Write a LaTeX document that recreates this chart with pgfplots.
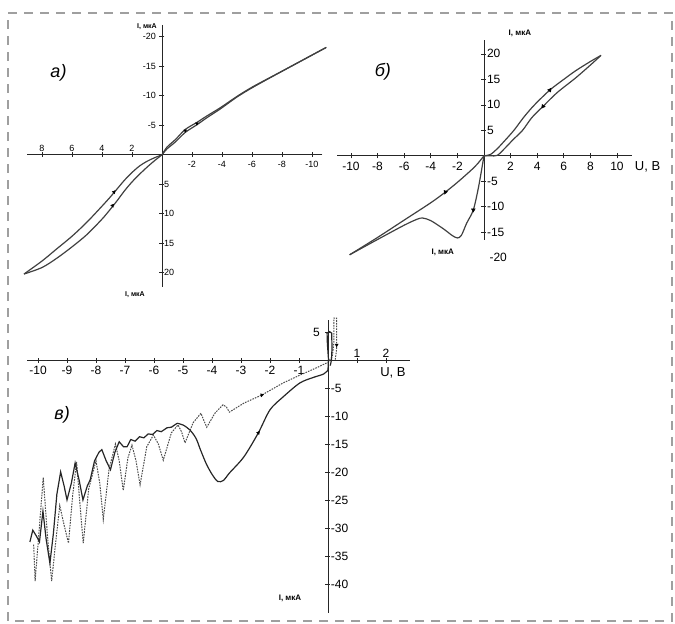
\documentclass[border=0pt]{standalone}
\usepackage{fontspec}
\setmainfont{Liberation Sans}
\usepackage{pgfplots}
\pgfplotsset{compat=1.18}
\begin{document}
\begin{tikzpicture}
\useasboundingbox (0pt,0pt) rectangle (675pt,624pt);
\draw[gray!75, line width=1.4pt, dash pattern=on 9pt off 7pt] (8pt,3pt) rectangle (672pt,611pt);
\pgfplotsset{
  myaxis/.style={axis lines=middle, scale only axis, clip=false, enlargelimits=false,
    axis line style={-, line width=0.9pt, black!85},
    every tick/.style={black!85, line width=0.7pt}, major tick length=5pt, tick align=center,
    /pgf/number format/assume math mode=true},
  crv/.style={line width=1.2pt, black!75},
  arr/.style={only marks, mark=triangle*, mark size=2.2pt, black},
}
% ---------------- panel a ----------------
\begin{axis}[myaxis, at={(27pt,337pt)}, anchor=south west, width=295.5pt, height=262pt,
  xmin=-10.7, xmax=9, ymin=-22, ymax=22.4, x dir=reverse, y dir=reverse,
  xtick={-10,-8,-6,-4,-2}, ytick={-20,-15,-10,-5},
  extra x ticks={2,4,6,8}, extra y ticks={5,10,15,20},
  tick label style={font=\fontsize{9}{10}\selectfont},
  extra x tick style={xticklabel style={anchor=south, yshift=2pt}},
  extra y tick style={yticklabel style={anchor=west, xshift=1pt}},
]
\addplot[crv, smooth] coordinates {(0,0)(0.5,0.5)(1,1.1)(1.5,1.9)(2,3.0)(2.5,4.3)(3,5.8)(3.5,7.3)(4,8.7)(5,11.4)(6,13.8)(7,15.9)(8,18)(9.2,20.2)};
\addplot[crv, smooth] coordinates {(0,0)(0.5,1.0)(1,2.1)(1.5,3.3)(2,4.6)(2.5,6.1)(3,7.8)(3.5,9.4)(4,10.9)(5,13.5)(6,15.6)(7,17.5)(8,19.1)(9.2,20.2)};
\addplot[crv, smooth] coordinates {(0,0)(-0.33,-1.3)(-0.9,-2.6)(-1.55,-4.3)(-2.33,-5.5)(-3,-6.6)(-3.9,-8)(-5,-9.9)(-6.1,-11.6)(-8.1,-14.3)(-10.95,-18.2)};
\addplot[crv, smooth] coordinates {(0,0)(-0.33,-1.0)(-0.9,-2.2)(-1.55,-3.8)(-2.33,-5.1)(-3,-6.3)(-3.9,-7.8)(-5,-9.8)(-6.1,-11.5)(-8.1,-14.3)(-10.95,-18.2)};
\addplot[arr, mark size=1.8pt, mark options={rotate=200}] coordinates {(3.2,6.3)(3.3,8.6)};
\addplot[arr, mark size=1.6pt, mark options={rotate=-60}] coordinates {(-1.55,-4.1)(-2.33,-5.3)};
\node[font=\fontsize{7}{8}\selectfont\bfseries] at (axis cs:1.0,-21.7) {I, мкА};
\node[font=\fontsize{7}{8}\selectfont\bfseries] at (axis cs:1.8,23.7) {I, мкА};
\node[font=\fontsize{18}{20}\selectfont\itshape] at (axis cs:6.9,-13.9) {а)};
\end{axis}
% ---------------- panel b ----------------
\begin{axis}[myaxis, at={(337pt,384pt)}, anchor=south west, width=295pt, height=199.9pt,
  xmin=-11.05, xmax=11.13, ymin=-16.5, ymax=22.7,
  xtick={-10,-8,-6,-4,-2,2,4,6,8,10}, ytick={-15,-10,-5,5,10,15,20},
  tick label style={font=\fontsize{12}{13}\selectfont},
  yticklabel style={anchor=west, xshift=2pt},
]
\addplot[crv, smooth] coordinates {(0,0)(0.5,0.3)(1,1.4)(1.5,2.8)(2.25,5)(3,7.6)(3.8,10)(4.95,12.9)(6,15)(6.9,16.7)(8,18.5)(8.8,19.7)};
\addplot[crv, smooth] coordinates {(0,0)(0.5,0)(1,0.1)(1.5,1.3)(2.2,3.2)(2.9,5)(3.6,7.5)(4.44,9.7)(5.5,12.4)(6.9,15.3)(8,17.8)(8.8,19.7)};
\addplot[crv, smooth] coordinates {(0,0)(-0.5,-1.6)(-1,-2.9)(-2,-5.2)(-2.9,-7.1)(-4,-9.2)(-6,-12.6)(-8,-16)(-10.1,-19.4)};
\addplot[crv, smooth, tension=0.5] coordinates {(-10.1,-19.4)(-8,-16.4)(-6,-13.6)(-5,-12.4)(-4.6,-12.2)(-4,-12.7)(-3,-14.4)(-2.4,-15.6)(-2,-16.1)(-1.7,-15.6)(-1.3,-13.2)(-0.8,-10.6)(-0.4,-6)(0,0)};
\addplot[arr, mark options={rotate=-35}] coordinates {(4.95,12.9)};
\addplot[arr, mark options={rotate=145}] coordinates {(4.44,9.7)};
\addplot[arr, mark options={rotate=160}] coordinates {(-2.9,-7.1)};
\addplot[arr, mark options={rotate=180}] coordinates {(-0.8,-10.6)};
\node[font=\fontsize{12}{13}\selectfont, anchor=west, xshift=2pt] at (axis cs:0,-20) {-20};
\node[font=\fontsize{13}{14}\selectfont] at (axis cs:12.3,-2.2) {U, B};
\node[font=\fontsize{8}{9}\selectfont\bfseries] at (axis cs:2.7,24.1) {I, мкА};
\node[font=\fontsize{8}{9}\selectfont\bfseries] at (axis cs:-3.1,-19.0) {I, мкА};
\node[font=\fontsize{18}{20}\selectfont\itshape] at (axis cs:-7.6,16.5) {б)};
\end{axis}
% ---------------- panel v ----------------
\begin{axis}[myaxis, at={(27pt,11pt)}, anchor=south west, width=383pt, height=292.9pt,
  xmin=-10.38, xmax=2.83, ymin=-45.2, ymax=7.14,
  xtick={-10,-9,-8,-7,-6,-5,-4,-3,-2,-1}, ytick={-40,-35,-30,-25,-20,-15,-10,-5},
  extra x ticks={1,2}, extra y ticks={5},
  tick label style={font=\fontsize{12}{13}\selectfont},
  yticklabel style={anchor=west, xshift=2pt},
  extra x tick style={xticklabel style={anchor=south, yshift=2pt}},
  extra y tick style={yticklabel style={anchor=east, xshift=-4pt}},
]
\addplot[black!70, line width=1pt, dash pattern=on 1.6pt off 1.1pt] coordinates {(-10.15,-33)(-10.1,-39.5)(-9.97,-31)(-9.82,-21)(-9.68,-31)(-9.53,-39.5)(-9.4,-33)(-9.25,-26)(-9.1,-29.5)(-8.95,-32.7)(-8.8,-24)(-8.67,-18.2)(-8.55,-26)(-8.44,-32.7)(-8.25,-23)(-8.0,-18)(-7.87,-22)(-7.75,-28.5)(-7.55,-19.5)(-7.33,-15)(-7.2,-18)(-7.06,-23.3)(-6.9,-17.5)(-6.76,-15.2)(-6.62,-18)(-6.48,-22.3)(-6.25,-15.5)(-6.02,-13.4)(-5.85,-15)(-5.68,-17.9)(-5.4,-13)(-5.17,-11.6)(-5.05,-12.8)(-4.93,-14.8)(-4.65,-11.2)(-4.38,-9.5)(-4.28,-10.8)(-4.18,-12)(-3.9,-9.5)(-3.62,-8)(-3.5,-8.4)(-3.4,-9.3)(-2.9,-7.7)(-2.28,-6.25)(-1.55,-4.1)(-0.97,-2.7)(-0.4,-1.4)(0,-0.4)(0.15,0.6)(0.2,3)(0.2,7.5)(0.3,7.5)(0.3,2)(0.25,0)};
\addplot[black!85, line width=1.2pt] coordinates {(-10.28,-32.5)(-10.18,-30.4)(-10.05,-31.5)(-9.95,-32.5)(-9.83,-27)(-9.72,-32)(-9.59,-36.3)(-9.47,-31)(-9.35,-24)(-9.22,-20)(-9.1,-22.5)(-9.0,-25)(-8.85,-22)(-8.72,-18.4)(-8.58,-21.5)(-8.45,-25)(-8.3,-22.5)(-8.2,-21.4)(-8.05,-18)(-7.9,-16.5)(-7.8,-16)(-7.65,-18)(-7.5,-19.6)(-7.35,-16.5)(-7.2,-14.6)(-7.05,-15.5)(-6.93,-15.5)(-6.8,-14.2)(-6.65,-14.5)(-6.5,-13.7)(-6.35,-13.9)(-6.2,-13.2)(-6.05,-13.3)(-5.9,-12.6)(-5.75,-12.8)(-5.55,-12.1)(-5.4,-12)(-5.2,-11.3)};
\addplot[black!85, line width=1.2pt, smooth, tension=0.5] coordinates {(-5.2,-11.3)(-5.0,-11.6)(-4.76,-12.5)(-4.55,-14)(-4.4,-16)(-4.2,-18.5)(-4.0,-20.4)(-3.8,-21.7)(-3.6,-21.5)(-3.4,-20.2)(-2.9,-17.3)(-2.4,-13)(-2.0,-8.9)(-1.55,-6.6)(-0.97,-4.1)(-0.5,-3.1)(-0.15,-2.5)(0,-1.8)};
\addplot[black!85, line width=1.2pt] coordinates {(0,-1.8)(0.02,0)(-0.02,3)(-0.03,4.8)(0.05,5.1)(0.13,4.8)(0.14,2)(0.12,0)(0.08,-1)};
\addplot[arr, mark size=1.8pt, mark options={rotate=-40}] coordinates {(-2.4,-13)};
\addplot[arr, mark size=1.8pt, mark options={rotate=-75}] coordinates {(-2.28,-6.25)};
\addplot[arr, mark size=1.8pt, mark options={rotate=180}] coordinates {(0.3,2.7)};
\node[font=\fontsize{13}{14}\selectfont] at (axis cs:2.24,-2.3) {U, B};
\node[font=\fontsize{8}{9}\selectfont\bfseries] at (axis cs:-1.31,-42.5) {I, мкА};
\node[font=\fontsize{18}{20}\selectfont\itshape] at (axis cs:-9.17,-9.8) {в)};
\end{axis}
\end{tikzpicture}
\end{document}
